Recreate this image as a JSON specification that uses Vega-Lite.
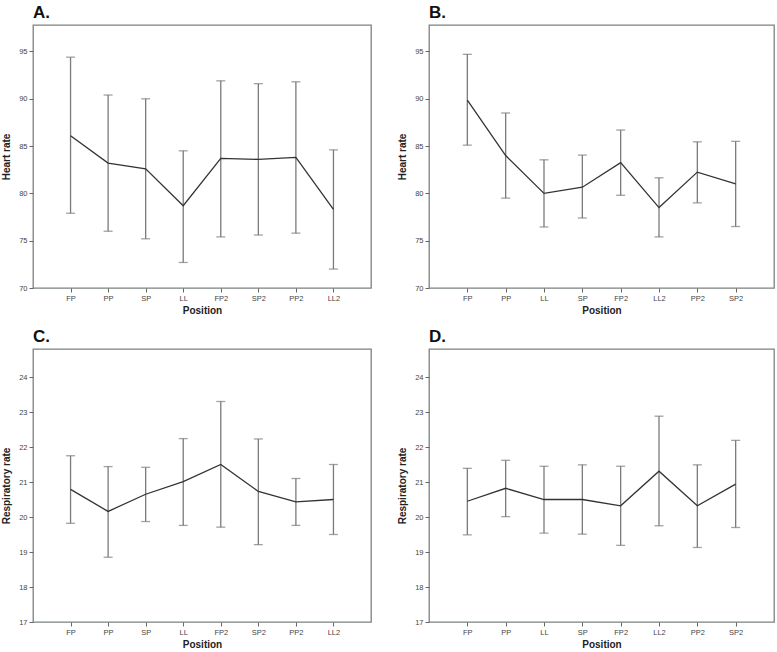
{
  "$schema": "https://vega.github.io/schema/vega-lite/v6.json",
  "background": "white",
  "padding": {"left": 1, "top": 3, "right": 0, "bottom": 0},
  "columns": 2,
  "spacing": {"row": 10, "column": 25},
  "datasets": {
    "A": [
      {"pos": "FP", "mean": 86.1, "lo": 77.9, "hi": 94.4},
      {"pos": "PP", "mean": 83.2, "lo": 76.0, "hi": 90.4},
      {"pos": "SP", "mean": 82.6, "lo": 75.2, "hi": 90.0},
      {"pos": "LL", "mean": 78.7, "lo": 72.7, "hi": 84.5},
      {"pos": "FP2", "mean": 83.7, "lo": 75.4, "hi": 91.9},
      {"pos": "SP2", "mean": 83.6, "lo": 75.6, "hi": 91.6},
      {"pos": "PP2", "mean": 83.8, "lo": 75.8, "hi": 91.8},
      {"pos": "LL2", "mean": 78.3, "lo": 72.0, "hi": 84.6}
    ],
    "B": [
      {"pos": "FP", "mean": 89.85, "lo": 85.1, "hi": 94.7},
      {"pos": "PP", "mean": 84.0, "lo": 79.5, "hi": 88.5},
      {"pos": "LL", "mean": 80.0, "lo": 76.45, "hi": 83.55},
      {"pos": "SP", "mean": 80.65, "lo": 77.4, "hi": 84.05},
      {"pos": "FP2", "mean": 83.25, "lo": 79.8, "hi": 86.7},
      {"pos": "LL2", "mean": 78.5, "lo": 75.4, "hi": 81.65},
      {"pos": "PP2", "mean": 82.25, "lo": 79.0, "hi": 85.45},
      {"pos": "SP2", "mean": 81.0, "lo": 76.5, "hi": 85.5}
    ],
    "C": [
      {"pos": "FP", "mean": 20.79, "lo": 19.82, "hi": 21.75},
      {"pos": "PP", "mean": 20.16, "lo": 18.85, "hi": 21.44},
      {"pos": "SP", "mean": 20.65, "lo": 19.87, "hi": 21.42},
      {"pos": "LL", "mean": 21.01, "lo": 19.76, "hi": 22.24},
      {"pos": "FP2", "mean": 21.5, "lo": 19.71, "hi": 23.3},
      {"pos": "SP2", "mean": 20.73, "lo": 19.21, "hi": 22.23},
      {"pos": "PP2", "mean": 20.43, "lo": 19.76, "hi": 21.1},
      {"pos": "LL2", "mean": 20.5, "lo": 19.5, "hi": 21.5}
    ],
    "D": [
      {"pos": "FP", "mean": 20.45, "lo": 19.49, "hi": 21.39},
      {"pos": "PP", "mean": 20.82, "lo": 20.01, "hi": 21.62},
      {"pos": "LL", "mean": 20.5, "lo": 19.54, "hi": 21.45},
      {"pos": "SP", "mean": 20.5, "lo": 19.51, "hi": 21.49},
      {"pos": "FP2", "mean": 20.32, "lo": 19.19, "hi": 21.45},
      {"pos": "LL2", "mean": 21.31, "lo": 19.75, "hi": 22.88},
      {"pos": "PP2", "mean": 20.32, "lo": 19.13, "hi": 21.49},
      {"pos": "SP2", "mean": 20.94, "lo": 19.7, "hi": 22.19}
    ]
  },
  "concat": [
    {
      "title": "A.",
      "width": 338, "height": 263,
      "data": {"name": "A"},
      "encoding": {"x": {"field": "pos", "type": "ordinal", "sort": ["FP","PP","SP","LL","FP2","SP2","PP2","LL2"], "scale": {"type": "point", "padding": 1}, "title": "Position"}},
      "layer": [
        {"mark": {"type": "errorbar", "color": "#7a7a7a", "thickness": 1.3, "ticks": {"size": 9, "thickness": 1.3, "color": "#7a7a7a"}},
         "encoding": {"y": {"field": "lo", "type": "quantitative", "scale": {"domain": [70, 97.8], "nice": false, "zero": false}, "axis": {"values": [70,75,80,85,90,95], "labelOverlap": false}, "title": "Heart rate"}, "y2": {"field": "hi"}}},
        {"mark": {"type": "line", "color": "#333333", "strokeWidth": 1.3},
         "encoding": {"y": {"field": "mean", "type": "quantitative", "title": "Heart rate", "axis": {"values": [70,75,80,85,90,95], "labelOverlap": false}}}}
      ]
    },
    {
      "title": "B.",
      "width": 345, "height": 263,
      "data": {"name": "B"},
      "encoding": {"x": {"field": "pos", "type": "ordinal", "sort": ["FP","PP","LL","SP","FP2","LL2","PP2","SP2"], "scale": {"type": "point", "padding": 1}, "title": "Position"}},
      "layer": [
        {"mark": {"type": "errorbar", "color": "#7a7a7a", "thickness": 1.3, "ticks": {"size": 9, "thickness": 1.3, "color": "#7a7a7a"}},
         "encoding": {"y": {"field": "lo", "type": "quantitative", "scale": {"domain": [70, 97.8], "nice": false, "zero": false}, "axis": {"values": [70,75,80,85,90,95], "labelOverlap": false}, "title": "Heart rate"}, "y2": {"field": "hi"}}},
        {"mark": {"type": "line", "color": "#333333", "strokeWidth": 1.3},
         "encoding": {"y": {"field": "mean", "type": "quantitative", "title": "Heart rate", "axis": {"values": [70,75,80,85,90,95], "labelOverlap": false}}}}
      ]
    },
    {
      "title": "C.",
      "width": 338, "height": 273,
      "data": {"name": "C"},
      "encoding": {"x": {"field": "pos", "type": "ordinal", "sort": ["FP","PP","SP","LL","FP2","SP2","PP2","LL2"], "scale": {"type": "point", "padding": 1}, "title": "Position"}},
      "layer": [
        {"mark": {"type": "errorbar", "color": "#7a7a7a", "thickness": 1.3, "ticks": {"size": 9, "thickness": 1.3, "color": "#7a7a7a"}},
         "encoding": {"y": {"field": "lo", "type": "quantitative", "scale": {"domain": [17, 24.8], "nice": false, "zero": false}, "axis": {"values": [17,18,19,20,21,22,23,24], "labelOverlap": false}, "title": "Respiratory rate"}, "y2": {"field": "hi"}}},
        {"mark": {"type": "line", "color": "#333333", "strokeWidth": 1.3},
         "encoding": {"y": {"field": "mean", "type": "quantitative", "title": "Respiratory rate", "axis": {"values": [17,18,19,20,21,22,23,24], "labelOverlap": false}}}}
      ]
    },
    {
      "title": "D.",
      "width": 345, "height": 273,
      "data": {"name": "D"},
      "encoding": {"x": {"field": "pos", "type": "ordinal", "sort": ["FP","PP","LL","SP","FP2","LL2","PP2","SP2"], "scale": {"type": "point", "padding": 1}, "title": "Position"}},
      "layer": [
        {"mark": {"type": "errorbar", "color": "#7a7a7a", "thickness": 1.3, "ticks": {"size": 9, "thickness": 1.3, "color": "#7a7a7a"}},
         "encoding": {"y": {"field": "lo", "type": "quantitative", "scale": {"domain": [17, 24.8], "nice": false, "zero": false}, "axis": {"values": [17,18,19,20,21,22,23,24], "labelOverlap": false}, "title": "Respiratory rate"}, "y2": {"field": "hi"}}},
        {"mark": {"type": "line", "color": "#333333", "strokeWidth": 1.3},
         "encoding": {"y": {"field": "mean", "type": "quantitative", "title": "Respiratory rate", "axis": {"values": [17,18,19,20,21,22,23,24], "labelOverlap": false}}}}
      ]
    }
  ],
  "config": {
    "view": {"stroke": "#7b8280", "strokeWidth": 1.3},
    "axis": {"labelFont": "Liberation Sans", "labelFontSize": 7.5, "labelColor": "#444444", "tickColor": "#666666", "tickSize": 4, "labelPadding": 2, "labelOverlap": false, "domain": false, "grid": false, "titleFont": "Liberation Sans", "titleFontSize": 10, "titleFontWeight": "bold", "titleColor": "#222222", "titlePadding": 7},
    "axisX": {"labelAngle": 0, "titlePadding": 4},
    "title": {"font": "Liberation Sans", "fontSize": 17, "fontWeight": "bold", "anchor": "start", "frame": "group", "offset": 3, "color": "#111111"}
  }
}
